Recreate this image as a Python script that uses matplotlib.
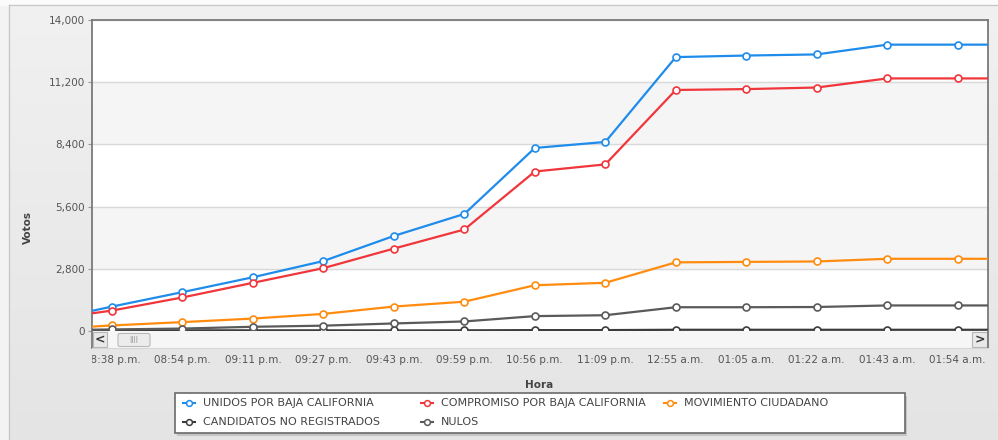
import numpy as np
import matplotlib
matplotlib.use("Agg")
import matplotlib.pyplot as plt
from matplotlib.patches import Rectangle, FancyBboxPatch
from matplotlib.lines import Line2D
from matplotlib.ticker import FuncFormatter
from matplotlib.transforms import Bbox

W, H = 998, 440

horas = ["08:38 p.m.", "08:54 p.m.", "09:11 p.m.", "09:27 p.m.", "09:43 p.m.", "09:59 p.m.",
         "10:56 p.m.", "11:09 p.m.", "12:55 a.m.", "01:05 a.m.", "01:22 a.m.", "01:43 a.m.",
         "01:54 a.m."]

# first and last value of each series are the points just outside the scrolled window
unidos = [420, 1100, 1750, 2420, 3150, 4280, 5270, 8240, 8510, 12330, 12400, 12450, 12890, 12890, 12890]
compromiso = [480, 920, 1510, 2170, 2830, 3710, 4570, 7180, 7500, 10850, 10890, 10960, 11370, 11370, 11370]
movimiento = [70, 250, 400, 560, 770, 1100, 1320, 2060, 2170, 3090, 3110, 3130, 3250, 3250, 3250]
candidatos = [10, 20, 30, 30, 30, 25, 30, 40, 40, 55, 55, 55, 55, 55, 55]
nulos = [30, 70, 110, 190, 240, 340, 430, 670, 710, 1070, 1070, 1080, 1150, 1150, 1150]

series = [
    ("UNIDOS POR BAJA CALIFORNIA", unidos, "#1f8ceb"),
    ("COMPROMISO POR BAJA CALIFORNIA", compromiso, "#f0363a"),
    ("MOVIMIENTO CIUDADANO", movimiento, "#ff8c0f"),
    ("CANDIDATOS NO REGISTRADOS", candidatos, "#3c3c3c"),
    ("NULOS", nulos, "#5a5a5a"),
]

yticks = [0, 2800, 5600, 8400, 11200, 14000]


def fx(x):
    return x / W


def fy(y):
    return 1 - y / H


fig = plt.figure(figsize=(W / 100, H / 100), dpi=100)

# background panel
bg = fig.add_axes([0, 0, 1, 1], zorder=-10)
bg.set_axis_off()
grad = np.linspace(0.945, 0.895, 200).reshape(-1, 1)
bg.imshow(np.dstack([grad, grad, grad]), aspect="auto", extent=[0, 1, 0, 1])
bg.set_xlim(0, 1)
bg.set_ylim(0, 1)
bg.add_patch(Rectangle((0, 0), fx(9), 1, color="#f3f3f3", transform=bg.transAxes))
bg.add_patch(Rectangle((0, fy(5)), 1, 1 - fy(5), color="#fbfbfb", transform=bg.transAxes))
bg.plot([fx(9), fx(9)], [0, fy(5)], color="#c8c8c8", lw=1)
bg.plot([fx(9), 1], [fy(5), fy(5)], color="#c8c8c8", lw=1)

# main plot
ax = fig.add_axes([fx(92), fy(331), 896 / W, 311 / H])
ax.set_facecolor("white")
x = np.arange(-1, len(horas) + 1)
for i in range(len(yticks) - 1):
    if i % 2 == 1:
        ax.axhspan(yticks[i], yticks[i + 1], color="#f5f5f5", zorder=0)
ax.set_yticks(yticks)
ax.grid(axis="y", color="#d9d9d9", lw=1)
ax.set_axisbelow(True)

for name, vals, col in series:
    ax.plot(x, vals, color=col, lw=1.6, marker="o", ms=5.0, mfc="white", mec=col, mew=1.2,
            zorder=3)

ax.set_xlim(-0.284, 12.43)
ax.set_ylim(0, 14000)
ax.yaxis.set_major_formatter(FuncFormatter(lambda v, p: f"{int(v):,}"))
ax.set_xticks(np.arange(len(horas)))
ax.set_xticklabels(horas)
ax.tick_params(axis="x", length=0, pad=17, labelsize=7.5, labelcolor="#555555")
ax.tick_params(axis="y", length=3, width=0.8, color="#999999", pad=2, labelsize=7.5,
               labelcolor="#555555")
clip = Bbox.from_extents(92, 0, 990, H)
for lab in ax.get_xticklabels():
    lab.set_clip_box(clip)
    lab.set_clip_on(True)

for s in ["left", "top", "right"]:
    ax.spines[s].set_color("#7a7a7a")
    ax.spines[s].set_linewidth(1.3)
ax.spines["bottom"].set_color("#d0d0d0")
ax.spines["bottom"].set_linewidth(0.8)

ax.set_ylabel("Votos", fontsize=7.5, fontweight="bold", color="#444444")
ax.yaxis.set_label_coords(-0.066, 0.334)
ax.set_xlabel("Hora", fontsize=7.5, fontweight="bold", color="#444444")
ax.xaxis.set_label_coords(0.499, -0.158)

# scrollbar under the plot
sb = fig.add_axes([fx(92), fy(348), 896 / W, 17 / H])
sb.set_xlim(0, 896)
sb.set_ylim(0, 17)
sb.set_xticks([])
sb.set_yticks([])
sb.set_facecolor("#f6f6f6")
for s in ["left", "right"]:
    sb.spines[s].set_color("#7a7a7a")
    sb.spines[s].set_linewidth(1.3)
sb.spines["top"].set_visible(False)
sb.spines["bottom"].set_color("#d6d6d6")
sb.add_patch(Rectangle((1, 1), 14, 15, fc="#e9e9e9", ec="#b5b5b5", lw=0.8))
sb.text(8, 8.5, "<", ha="center", va="center", fontsize=9, fontweight="bold", color="#333333")
sb.add_patch(FancyBboxPatch((26, 1.5), 32, 13, boxstyle="round,pad=0,rounding_size=2",
                            fc="#ececec", ec="#b8b8b8", lw=0.8))
sb.text(42, 8, "IIII", ha="center", va="center", fontsize=5.5, color="#9a9a9a")
sb.add_patch(Rectangle((880, 1), 15, 15, fc="#e9e9e9", ec="#b5b5b5", lw=0.8))
sb.text(887.5, 8.5, ">", ha="center", va="center", fontsize=9, fontweight="bold", color="#333333")

# legend box
lg = fig.add_axes([fx(175), fy(433), 730 / W, 40 / H], zorder=5)
lg.set_xlim(0, 730)
lg.set_ylim(40, 0)
lg.set_axis_off()
fig.patches.append(Rectangle((fx(177), fy(436)), 730 / W, 40 / H, transform=fig.transFigure,
                             fc="#c4c4c4", ec="none", zorder=4))
lg.add_patch(Rectangle((0, 0), 730, 40, fc="white", ec="#6a6a6a", lw=1.2, clip_on=False))

slots = [(14, 9.7), (14, 28.7), (252, 9.7), (252, 28.7), (495, 9.7)]
order = [0, 3, 1, 4, 2]
for (mx, my), k in zip(slots, order):
    name, vals, col = series[k]
    lg.add_line(Line2D([mx - 6, mx + 6], [my, my], color=col, lw=1.5))
    lg.add_line(Line2D([mx], [my], marker="o", ms=4.2, mfc="white", mec=col, mew=1.1))
    lg.text(mx + 14, my, name, ha="left", va="center", fontsize=8, color="#444444")

fig.savefig("out.png", dpi=100)
